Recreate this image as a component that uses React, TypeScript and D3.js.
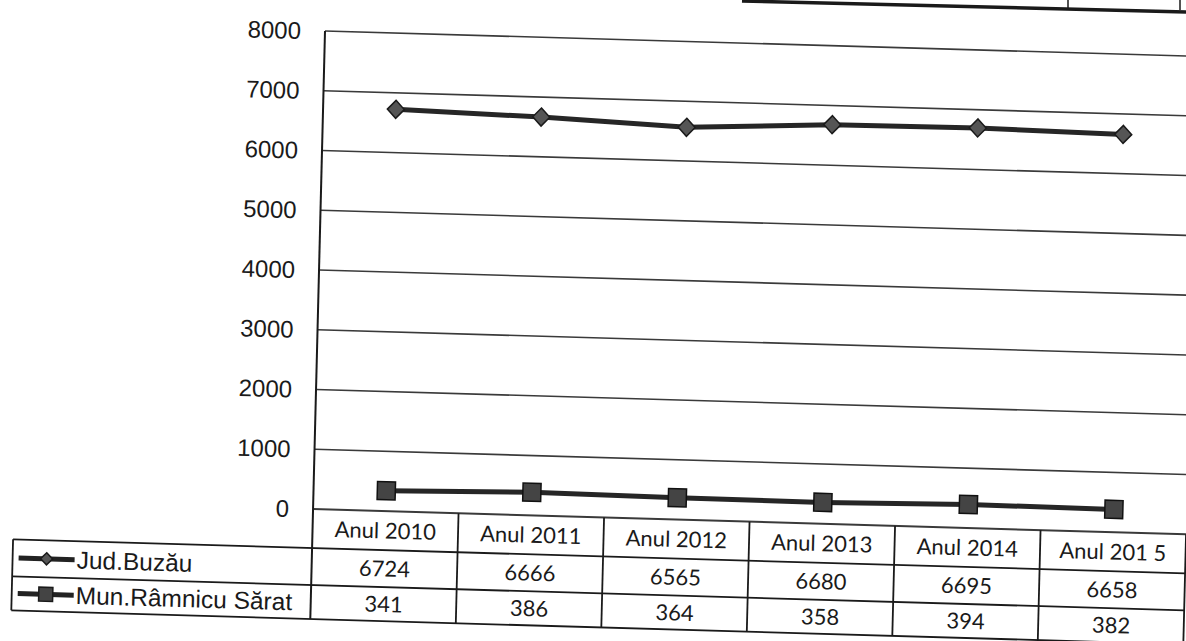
import React from 'react';
import * as d3 from 'd3';

// values
const years = ['Anul 2010', 'Anul 2011', 'Anul 2012', 'Anul 2013', 'Anul 2014', 'Anul 201 5'];
const buzau = [6724, 6666, 6565, 6680, 6695, 6658];
const ramnicu = [341, 386, 364, 358, 394, 382];
const seriesNames = ['Jud.Buzău', 'Mun.Râmnicu Sărat'];
const yTicks = [0, 1000, 2000, 3000, 4000, 5000, 6000, 7000, 8000];

const W = 1186;
const H = 641;
const plotW = 873;
const plotH = 478;
const rowH = [39, 37, 34];
const legendW = 299;

const ink = '#1a1a1a';

function App() {
  const x = d3.scaleBand<string>().domain(years).range([0, plotW]);
  const y = d3.scaleLinear().domain([0, 8000]).range([plotH, 0]);
  const cx = (d: string) => (x(d) || 0) + x.bandwidth() / 2;

  const line = d3
    .line<number>()
    .x((d, i) => cx(years[i]))
    .y((d) => y(d));

  const rowTop = [plotH, plotH + rowH[0], plotH + rowH[0] + rowH[1]];
  const tableBottom = plotH + rowH[0] + rowH[1] + rowH[2];

  const diamond = 'M0,-9L8.5,0L0,9L-8.5,0Z';
  const square = 'M-9,-9H9V9H-9Z';

  return (
    <svg width={W} height={H} style={{ position: 'absolute', left: 0, top: 0, background: '#fff' }}>
      {/* edge of the table above, cut by the scan */}
      <line x1={742} y1={1} x2={1186} y2={12} stroke={ink} strokeWidth={3.5} />
      <line x1={1068} y1={0} x2={1068} y2={8} stroke={ink} strokeWidth={1.5} />
      <line x1={1180} y1={0} x2={1180} y2={10} stroke={ink} strokeWidth={1.5} />

      {/* the page sits slightly skewed in the scanner */}
      <g transform="matrix(1, 0.029, -0.025, 1, 325, 31)">
        {yTicks.map((t) => (
          <g key={t}>
            <line x1={0} x2={plotW} y1={y(t)} y2={y(t)} stroke="#3a3a3a" strokeWidth={t === 0 ? 2 : 1.6} />
            <text
              x={-24}
              y={y(t)}
              dy="0.36em"
              textAnchor="end"
              fontFamily="'Liberation Sans', Arial, sans-serif"
              fontSize={24}
              fill={ink}
            >
              {t}
            </text>
          </g>
        ))}

        {/* value axis, runs down through the data table */}
        <line x1={0} x2={0} y1={0} y2={tableBottom} stroke={ink} strokeWidth={2} />

        {/* data table */}
        <line x1={-legendW} x2={plotW} y1={rowTop[1]} y2={rowTop[1]} stroke={ink} strokeWidth={1.8} />
        <line x1={-legendW} x2={plotW} y1={rowTop[2]} y2={rowTop[2]} stroke={ink} strokeWidth={1.8} />
        <line x1={-legendW} x2={plotW} y1={tableBottom} y2={tableBottom} stroke={ink} strokeWidth={1.8} />
        <line x1={-legendW} x2={-legendW} y1={rowTop[1]} y2={tableBottom} stroke={ink} strokeWidth={1.8} />
        {years.map((d) => (
          <line
            key={d}
            x1={(x(d) || 0) + x.bandwidth()}
            x2={(x(d) || 0) + x.bandwidth()}
            y1={plotH}
            y2={tableBottom}
            stroke={ink}
            strokeWidth={1.8}
          />
        ))}
        {years.map((d, i) => (
          <g key={d} fontFamily="Lato, 'Open Sans', sans-serif" fontSize={22} fill={ink} textAnchor="middle">
            <text x={cx(d)} y={rowTop[0] + rowH[0] / 2} dy="0.36em">{d}</text>
            <text x={cx(d)} y={rowTop[1] + rowH[1] / 2} dy="0.36em">{buzau[i]}</text>
            <text x={cx(d)} y={rowTop[2] + rowH[2] / 2} dy="0.36em">{ramnicu[i]}</text>
          </g>
        ))}

        {/* legend keys in the table */}
        {seriesNames.map((name, i) => {
          const cy = rowTop[i + 1] + rowH[i + 1] / 2;
          return (
            <g key={name}>
              <line x1={-293} x2={-237} y1={cy} y2={cy} stroke="#222" strokeWidth={5} />
              <path
                d={i === 0 ? 'M0,-6L6,0L0,6L-6,0Z' : 'M-7,-7H7V7H-7Z'}
                transform={`translate(-265,${cy})`}
                fill={i === 0 ? '#555' : '#444'}
                stroke="#1a1a1a"
                strokeWidth={1.5}
              />
              <text
                x={-235}
                y={cy}
                dy="0.36em"
                fontFamily="'Liberation Sans', Arial, sans-serif"
                fontSize={24.5}
                fill={ink}
              >
                {name}
              </text>
            </g>
          );
        })}

        {/* series */}
        <path d={line(buzau) || ''} fill="none" stroke="#262626" strokeWidth={5} />
        {buzau.map((v, i) => (
          <path
            key={i}
            d={diamond}
            transform={`translate(${cx(years[i])},${y(v)})`}
            fill="#555"
            stroke="#1a1a1a"
            strokeWidth={1.5}
          />
        ))}
        <path d={line(ramnicu) || ''} fill="none" stroke="#262626" strokeWidth={5} />
        {ramnicu.map((v, i) => (
          <path
            key={i}
            d={square}
            transform={`translate(${cx(years[i])},${y(v)})`}
            fill="#444"
            stroke="#111"
            strokeWidth={1.5}
          />
        ))}
      </g>
    </svg>
  );
}

export default App;
